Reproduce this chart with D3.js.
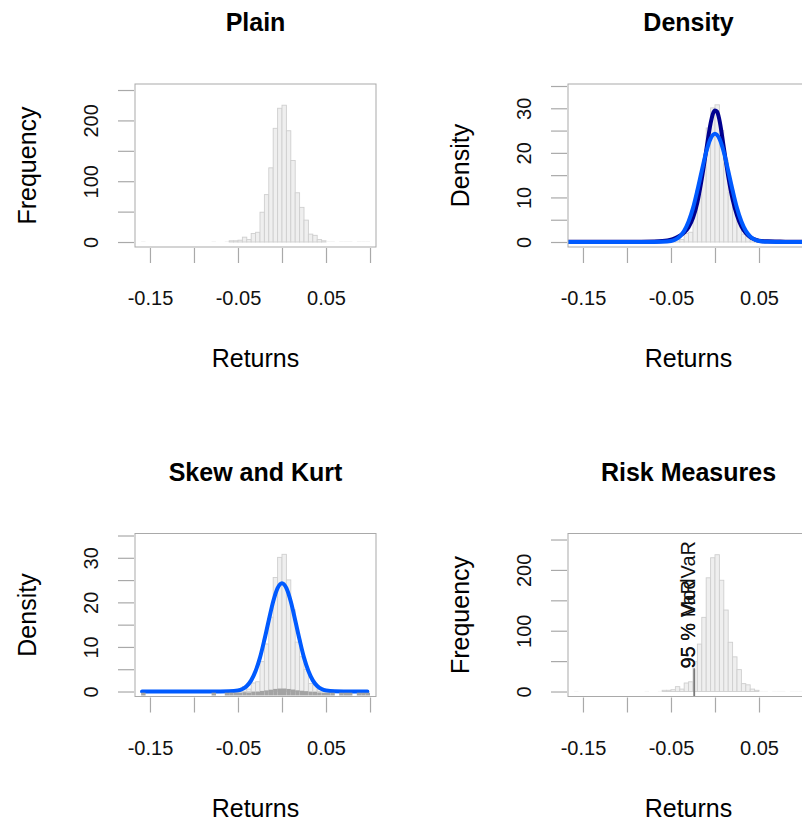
<!DOCTYPE html>
<html>
<head>
<meta charset="utf-8">
<script src="https://cdn.jsdelivr.net/npm/d3@7"></script>
<style>
  html, body { margin: 0; padding: 0; background: #fff; }
  svg { display: block; font-family: "Liberation Sans", Arial, Helvetica, sans-serif; }
</style>
</head>
<body>
<svg id="chart" width="802" height="823"></svg>
<script>
// Histogram of daily returns: left edge of each 0.005-wide bin and its count
const binWidth = 0.005;
const binLeft  = [-0.160, -0.080, -0.065, -0.060, -0.055, -0.050, -0.045, -0.040, -0.035, -0.030,
                  -0.025, -0.020, -0.015, -0.010, -0.005, 0.000, 0.005, 0.010, 0.015, 0.020,
                  0.025, 0.030, 0.035, 0.040, 0.045, 0.050, 0.055, 0.065, 0.070, 0.075,
                  0.085, 0.090, 0.095];
const binCount = [1, 1, 1, 2, 2, 3, 8, 4, 14, 16,
                  49, 78, 122, 187, 220, 225, 183, 134, 81, 57,
                  36, 13, 11, 4, 2, 1, 1, 1, 1, 1,
                  1, 1, 1];

// Kernel density estimate of the returns
const densityX = [-0.168, -0.10, -0.07, -0.06, -0.05, -0.045, -0.04, -0.035, -0.03, -0.025,
                  -0.02, -0.015, -0.01, -0.005, -0.0025, 0, 0.0025, 0.005, 0.01, 0.015,
                  0.02, 0.025, 0.03, 0.035, 0.04, 0.045, 0.05, 0.06, 0.07, 0.08,
                  0.09, 0.107];
const densityY = [0.03, 0.05, 0.12, 0.2, 0.5, 0.9, 1.4, 2.1, 3.3, 5.4,
                  8.9, 14.2, 20.5, 26.6, 28.7, 29.5, 29.2, 27.4, 21.2, 14.8,
                  9.6, 6.0, 3.5, 2.0, 1.1, 0.6, 0.3, 0.15, 0.1, 0.08,
                  0.07, 0.04];

// Normal curve with the mean and standard deviation of the returns
const normalX = [-0.168, -0.07, -0.06, -0.05, -0.045, -0.04, -0.035, -0.03, -0.025, -0.02,
                 -0.015, -0.01, -0.005, 0, 0.005, 0.01, 0.015, 0.02, 0.025, 0.03,
                 0.035, 0.04, 0.045, 0.05, 0.06, 0.07, 0.107];
const normalY = [0, 0, 0.03, 0.23, 0.56, 1.24, 2.5, 4.6, 7.6, 11.6,
                 16.0, 20.2, 23.2, 24.3, 23.2, 20.2, 16.0, 11.6, 7.6, 4.6,
                 2.5, 1.24, 0.56, 0.23, 0.03, 0, 0];

// Normal curve centred on zero, spanning the observed range
const centeredX = [-0.159, -0.07, -0.06, -0.05, -0.045, -0.04, -0.035, -0.03, -0.025, -0.02,
                   -0.015, -0.01, -0.005, 0, 0.005, 0.01, 0.015, 0.02, 0.025, 0.03,
                   0.035, 0.04, 0.045, 0.05, 0.06, 0.07, 0.097];
const centeredY = [0, 0, 0.03, 0.23, 0.56, 1.24, 2.5, 4.6, 7.6, 11.6,
                   16.0, 20.2, 23.2, 24.3, 23.2, 20.2, 16.0, 11.6, 7.6, 4.6,
                   2.5, 1.24, 0.56, 0.23, 0.03, 0, 0];

// Value-at-risk markers
const riskLabels = ["95 % VaR", "95 % ModVaR"];
const riskValues = [-0.0235, -0.0235];

// Titles and axis ticks
const panelTitles = ["Plain", "Density", "Skew and Kurt", "Risk Measures"];
const panelYLabels = ["Frequency", "Density", "Density", "Frequency"];
const xTickValues = [-0.15, -0.10, -0.05, 0, 0.05, 0.10];
const xTickLabels = ["-0.15", "", "-0.05", "", "0.05", ""];
const freqTickValues = [0, 50, 100, 150, 200, 250];
const freqTickLabels = ["0", "", "100", "", "200", ""];
const densTickValues = [0, 5, 10, 15, 20, 25, 30, 35];
const densTickLabels = ["0", "", "10", "", "20", "", "30", ""];

const svg = d3.select("#chart");
const axisGray = "#a9a9a9";
const barFill = "#efefef";
const barStroke = "#cfcfcf";
const N = d3.sum(binCount);
const bins = binLeft.map((l, i) => ({ left: l, count: binCount[i], dens: binCount[i] / (N * binWidth) }));

function drawPanel(idx, col, row, kind) {
  const g = svg.append("g").attr("transform", `translate(${col * 433},${row * 449.5})`);
  const x0 = 135, x1 = 376, y0 = 84, y1 = 247;
  const x = d3.scaleLinear().domain([-0.167, 0.1068]).range([x0, x1]);
  const isDens = kind === "density" || kind === "centered";
  const y = isDens
    ? d3.scaleLinear().domain([-1.12, 35.45]).range([y1, y0])
    : d3.scaleLinear().domain([-8.2, 259.9]).range([y1, y0]);

  const clipId = "clip" + idx;
  g.append("clipPath").attr("id", clipId)
    .append("rect").attr("x", x0).attr("y", y0).attr("width", x1 - x0).attr("height", y1 - y0);

  // histogram bars (single-observation bins are only a sliver, drawn without outline)
  const val = d => isDens ? d.dens : d.count;
  g.append("g").selectAll("rect").data(bins).join("rect")
    .attr("x", d => x(d.left))
    .attr("width", d => x(d.left + binWidth) - x(d.left))
    .attr("y", d => y(val(d)))
    .attr("height", d => y(0) - y(val(d)))
    .attr("fill", barFill)
    .attr("stroke", d => d.count > 1 ? barStroke : "none")
    .attr("stroke-width", 0.9);

  const line = d3.line().x(d => x(d[0])).y(d => y(d[1])).curve(d3.curveMonotoneX);
  const plot = g.append("g").attr("clip-path", `url(#${clipId})`);

  if (kind === "density") {
    plot.append("path").datum(densityX.map((v, i) => [v, densityY[i]]))
      .attr("d", line).attr("fill", "none").attr("stroke", "#00008F")
      .attr("stroke-width", 4).attr("stroke-linejoin", "round").attr("stroke-linecap", "round");
    plot.append("path").datum(normalX.map((v, i) => [v, normalY[i]]))
      .attr("d", line).attr("fill", "none").attr("stroke", "#005AFF")
      .attr("stroke-width", 4).attr("stroke-linejoin", "round").attr("stroke-linecap", "round");
  }

  if (kind === "centered") {
    plot.append("path").datum(centeredX.map((v, i) => [v, centeredY[i]]))
      .attr("d", line).attr("fill", "none").attr("stroke", "#005AFF")
      .attr("stroke-width", 4).attr("stroke-linejoin", "round").attr("stroke-linecap", "round");
    // rug of observations along the bottom edge
    plot.append("g").selectAll("rect").data(bins).join("rect")
      .attr("x", d => x(d.left))
      .attr("width", d => x(d.left + binWidth) - x(d.left))
      .attr("y", d => 246 - (2.5 + 4.5 * Math.sqrt(d.count / 225)))
      .attr("height", d => 2.5 + 4.5 * Math.sqrt(d.count / 225))
      .attr("fill", "#a3a3a3");
  }

  if (kind === "risk") {
    const topY = 219;
    riskValues.forEach((v, i) => {
      g.append("line")
        .attr("x1", x(v)).attr("x2", x(v))
        .attr("y1", y1).attr("y2", topY)
        .attr("stroke", "#7a7a7a").attr("stroke-width", 1.5);
      g.append("text")
        .attr("transform", `translate(${x(v) + 0.5},${topY}) rotate(-90)`)
        .attr("text-anchor", "start")
        .attr("font-size", 20)
        .attr("fill", "#111")
        .text(riskLabels[i]);
    });
  }

  // plot frame
  g.append("rect").attr("x", x0).attr("y", y0).attr("width", x1 - x0).attr("height", y1 - y0)
    .attr("fill", "none").attr("stroke", axisGray).attr("stroke-width", 1);

  // x axis
  const gx = g.append("g").attr("transform", "translate(0,248)")
    .call(d3.axisBottom(x).tickValues(xTickValues)
      .tickFormat((d, i) => xTickLabels[i]).tickSize(15).tickPadding(28));
  gx.attr("font-size", null).attr("font-family", null);
  gx.select(".domain").remove();
  gx.selectAll(".tick line").attr("stroke", axisGray).attr("stroke-width", 1.2);
  gx.selectAll(".tick text").attr("font-size", 20).attr("fill", "#111");

  // y axis
  const tv = isDens ? densTickValues : freqTickValues;
  const tl = isDens ? densTickLabels : freqTickLabels;
  const gy = g.append("g").attr("transform", "translate(134,0)")
    .call(d3.axisLeft(y).tickValues(tv).tickFormat((d, i) => tl[i]).tickSize(16));
  gy.attr("font-size", null).attr("font-family", null);
  gy.select(".domain").remove();
  gy.selectAll(".tick line").attr("stroke", axisGray).attr("stroke-width", 1.2);
  gy.selectAll(".tick text")
    .attr("x", null).attr("dy", null)
    .attr("text-anchor", "middle")
    .attr("transform", "translate(-36,0) rotate(-90)")
    .attr("font-size", 20).attr("fill", "#111");

  // titles
  g.append("text").attr("x", (x0 + x1) / 2).attr("y", 31)
    .attr("text-anchor", "middle").attr("font-size", 25).attr("font-weight", "bold")
    .attr("fill", "#000").text(panelTitles[idx]);
  g.append("text").attr("x", (x0 + x1) / 2).attr("y", 367)
    .attr("text-anchor", "middle").attr("font-size", 25).attr("fill", "#000").text("Returns");
  g.append("text").attr("transform", `translate(36,${(y0 + y1) / 2}) rotate(-90)`)
    .attr("text-anchor", "middle").attr("font-size", 25).attr("fill", "#000").text(panelYLabels[idx]);
}

drawPanel(0, 0, 0, "plain");
drawPanel(1, 1, 0, "density");
drawPanel(2, 0, 1, "centered");
drawPanel(3, 1, 1, "risk");
</script>
</body>
</html>
